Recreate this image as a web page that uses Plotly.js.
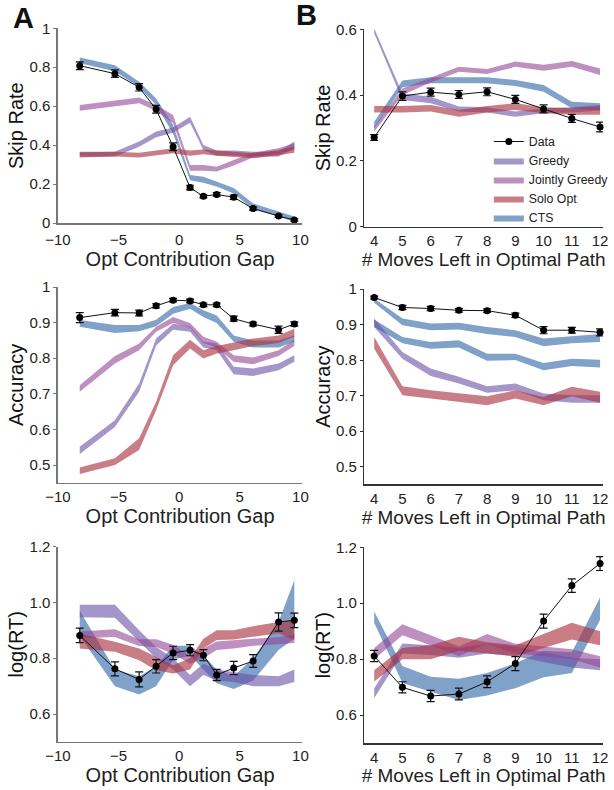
<!DOCTYPE html>
<html>
<head>
<meta charset="utf-8">
<script src="https://cdn.plot.ly/plotly-3.0.1.min.js"></script>
<style>html,body{margin:0;padding:0;background:#fff;overflow:hidden;width:614px;height:790px;}#chart{width:614px;height:790px;overflow:hidden;}</style>
</head>
<body>
<div id="chart"></div>
<script>
// ---------- x categories ----------
const xA = [-8.2, -5.3, -3.3, -1.9, -0.5, 0.9, 2.0, 3.1, 4.5, 6.1, 8.2, 9.5];
const xB = [4, 5, 6, 7, 8, 9, 10, 11, 12];

// ---------- A: Skip Rate ----------
const skipA_data = [0.808, 0.767, 0.697, 0.584, 0.392, 0.182, 0.137, 0.147, 0.132, 0.074, 0.036, 0.015];
const skipA_err  = [0.020, 0.019, 0.019, 0.020, 0.020, 0.012, 0.008, 0.009, 0.011, 0.008, 0.006, 0.006];
const skipA_cts_lo = [0.820, 0.780, 0.697, 0.606, 0.460, 0.220, 0.207, 0.187, 0.152, 0.070, 0.033, 0.007];
const skipA_cts_hi = [0.850, 0.810, 0.726, 0.640, 0.503, 0.247, 0.238, 0.212, 0.180, 0.100, 0.058, 0.033];
const skipA_gr_lo  = [0.341, 0.341, 0.392, 0.440, 0.464, 0.515, 0.375, 0.346, 0.346, 0.341, 0.341, 0.384];
const skipA_gr_hi  = [0.366, 0.366, 0.418, 0.470, 0.490, 0.546, 0.400, 0.372, 0.372, 0.366, 0.366, 0.418];
const skipA_jg_lo  = [0.577, 0.601, 0.615, 0.577, 0.512, 0.269, 0.269, 0.264, 0.295, 0.337, 0.358, 0.375];
const skipA_jg_hi  = [0.606, 0.627, 0.644, 0.606, 0.555, 0.298, 0.298, 0.289, 0.324, 0.361, 0.384, 0.410];
const skipA_so_lo  = [0.337, 0.341, 0.337, 0.346, 0.358, 0.346, 0.353, 0.346, 0.341, 0.332, 0.348, 0.361];
const skipA_so_hi  = [0.363, 0.366, 0.361, 0.372, 0.384, 0.372, 0.378, 0.372, 0.366, 0.358, 0.375, 0.392];

// ---------- B: Skip Rate ----------
const skipB_data = [0.271, 0.397, 0.409, 0.402, 0.410, 0.387, 0.358, 0.329, 0.303];
const skipB_err  = [0.009, 0.013, 0.012, 0.012, 0.012, 0.012, 0.012, 0.012, 0.015];
const skipB_cts_lo = [0.299, 0.424, 0.436, 0.436, 0.436, 0.428, 0.410, 0.360, 0.355];
const skipB_cts_hi = [0.319, 0.444, 0.454, 0.454, 0.454, 0.446, 0.431, 0.380, 0.375];
const skipB_gr_lo  = [0.588, 0.385, 0.375, 0.350, 0.347, 0.334, 0.345, 0.347, 0.353];
const skipB_gr_hi  = [0.603, 0.405, 0.395, 0.365, 0.363, 0.350, 0.360, 0.363, 0.370];
const skipB_jg_lo  = [0.289, 0.400, 0.438, 0.471, 0.464, 0.486, 0.474, 0.486, 0.461];
const skipB_jg_hi  = [0.304, 0.420, 0.454, 0.486, 0.479, 0.502, 0.492, 0.504, 0.481];
const skipB_so_lo  = [0.347, 0.347, 0.350, 0.334, 0.347, 0.355, 0.345, 0.340, 0.340];
const skipB_so_hi  = [0.367, 0.367, 0.370, 0.355, 0.367, 0.375, 0.363, 0.360, 0.365];

// ---------- A: Accuracy ----------
const accA_data = [0.914, 0.928, 0.927, 0.947, 0.963, 0.961, 0.950, 0.950, 0.911, 0.896, 0.880, 0.896];
const accA_err  = [0.014, 0.009, 0.008, 0.006, 0.005, 0.005, 0.005, 0.005, 0.007, 0.005, 0.010, 0.006];
const accA_cts_lo = [0.888, 0.871, 0.876, 0.890, 0.925, 0.939, 0.916, 0.899, 0.846, 0.830, 0.830, 0.846];
const accA_cts_hi = [0.907, 0.893, 0.893, 0.908, 0.944, 0.955, 0.935, 0.920, 0.864, 0.850, 0.850, 0.864];
const accA_gr_lo  = [0.531, 0.607, 0.706, 0.836, 0.880, 0.874, 0.830, 0.822, 0.755, 0.750, 0.766, 0.790];
const accA_gr_hi  = [0.551, 0.626, 0.729, 0.855, 0.897, 0.890, 0.846, 0.841, 0.776, 0.771, 0.785, 0.808];
const accA_jg_lo  = [0.706, 0.785, 0.822, 0.874, 0.899, 0.886, 0.843, 0.830, 0.790, 0.783, 0.806, 0.834];
const accA_jg_hi  = [0.724, 0.806, 0.841, 0.888, 0.916, 0.899, 0.860, 0.846, 0.808, 0.802, 0.822, 0.852];
const accA_so_lo  = [0.475, 0.500, 0.542, 0.654, 0.780, 0.827, 0.799, 0.813, 0.822, 0.834, 0.843, 0.860];
const accA_so_hi  = [0.493, 0.519, 0.575, 0.678, 0.808, 0.852, 0.822, 0.834, 0.843, 0.855, 0.864, 0.883];

// ---------- B: Accuracy ----------
const accB_data = [0.976, 0.948, 0.945, 0.940, 0.939, 0.926, 0.884, 0.884, 0.878];
const accB_err  = [0.004, 0.006, 0.006, 0.005, 0.005, 0.006, 0.010, 0.008, 0.010];
const accB_cts_lo  = [0.961, 0.898, 0.884, 0.886, 0.873, 0.865, 0.839, 0.847, 0.851];
const accB_cts_hi  = [0.973, 0.917, 0.903, 0.905, 0.893, 0.884, 0.861, 0.867, 0.873];
const accB_cts2_lo = [0.893, 0.847, 0.832, 0.835, 0.798, 0.800, 0.771, 0.783, 0.779];
const accB_cts2_hi = [0.914, 0.865, 0.851, 0.856, 0.818, 0.818, 0.792, 0.804, 0.801];
const accB_gr_lo   = [0.893, 0.804, 0.755, 0.734, 0.708, 0.715, 0.687, 0.680, 0.680];
const accB_gr_hi   = [0.917, 0.823, 0.776, 0.753, 0.726, 0.734, 0.706, 0.701, 0.701];
const accB_so_lo   = [0.832, 0.701, 0.692, 0.682, 0.673, 0.692, 0.673, 0.698, 0.680];
const accB_so_hi   = [0.865, 0.726, 0.715, 0.706, 0.698, 0.715, 0.696, 0.725, 0.711];

// ---------- A: log(RT) ----------
const rtA_data = [0.882, 0.762, 0.724, 0.771, 0.819, 0.829, 0.811, 0.740, 0.765, 0.790, 0.930, 0.936];
const rtA_err  = [0.026, 0.025, 0.027, 0.024, 0.024, 0.020, 0.020, 0.020, 0.024, 0.023, 0.033, 0.026];
const rtA_cts_lo = [0.880, 0.700, 0.670, 0.700, 0.795, 0.810, 0.760, 0.710, 0.690, 0.720, 0.830, 0.870];
const rtA_cts_hi = [0.970, 0.760, 0.735, 0.770, 0.845, 0.845, 0.810, 0.760, 0.735, 0.800, 0.930, 1.080];
const rtA_gr_lo  = [0.947, 0.945, 0.860, 0.800, 0.760, 0.700, 0.740, 0.720, 0.715, 0.700, 0.700, 0.715];
const rtA_gr_hi  = [0.992, 0.992, 0.900, 0.840, 0.800, 0.740, 0.780, 0.760, 0.750, 0.740, 0.735, 0.760];
const rtA_jg_lo  = [0.872, 0.876, 0.844, 0.840, 0.816, 0.780, 0.800, 0.830, 0.835, 0.845, 0.850, 0.855];
const rtA_jg_hi  = [0.896, 0.904, 0.868, 0.868, 0.848, 0.810, 0.835, 0.860, 0.865, 0.870, 0.875, 0.885];
const rtA_so_lo  = [0.835, 0.823, 0.793, 0.757, 0.745, 0.760, 0.835, 0.865, 0.867, 0.876, 0.890, 0.865];
const rtA_so_hi  = [0.888, 0.859, 0.835, 0.805, 0.775, 0.800, 0.870, 0.900, 0.900, 0.915, 0.930, 0.936];

// ---------- B: log(RT) ----------
const rtB_data = [0.811, 0.699, 0.668, 0.675, 0.719, 0.784, 0.936, 1.063, 1.142];
const rtB_err  = [0.020, 0.020, 0.020, 0.021, 0.021, 0.025, 0.025, 0.024, 0.025];
const rtB_cts_lo = [0.930, 0.715, 0.683, 0.654, 0.670, 0.696, 0.735, 0.750, 0.940];
const rtB_cts_hi = [0.970, 0.775, 0.737, 0.730, 0.750, 0.785, 0.830, 0.825, 1.020];
const rtB_gr_lo  = [0.660, 0.820, 0.815, 0.805, 0.820, 0.810, 0.790, 0.770, 0.760];
const rtB_gr_hi  = [0.695, 0.856, 0.850, 0.840, 0.855, 0.845, 0.825, 0.805, 0.800];
const rtB_jg_lo  = [0.800, 0.885, 0.850, 0.810, 0.855, 0.820, 0.810, 0.800, 0.770];
const rtB_jg_hi  = [0.840, 0.925, 0.885, 0.845, 0.890, 0.855, 0.845, 0.835, 0.810];
const rtB_so_lo  = [0.720, 0.800, 0.800, 0.830, 0.820, 0.810, 0.840, 0.870, 0.850];
const rtB_so_hi  = [0.760, 0.840, 0.850, 0.880, 0.860, 0.850, 0.890, 0.930, 0.900];

// ---------- styling ----------
const COL = {
  cts: 'rgba(60,110,170,0.65)',
  gr:  'rgba(105,80,165,0.6)',
  jg:  'rgba(145,70,150,0.6)',
  so:  'rgba(170,50,65,0.63)'
};
const NAMES = {cts: 'CTS', gr: 'Greedy', jg: 'Jointly Greedy', so: 'Solo Opt'};
const RANK = {data: 1, gr: 2, jg: 3, so: 4, cts: 5};
const FONT = 'Liberation Sans, Arial, Helvetica, sans-serif';

const traces = [];
function band(x, lo, hi, key, n, legend) {
  traces.push({
    type: 'scatter', mode: 'lines',
    x: x.concat(x.slice().reverse()),
    y: lo.concat(hi.slice().reverse()),
    fill: 'toself', fillcolor: COL[key],
    line: {width: 0, color: COL[key]},
    name: NAMES[key], legendrank: RANK[key],
    showlegend: !!legend, hoverinfo: 'skip',
    xaxis: 'x' + (n === 1 ? '' : n), yaxis: 'y' + (n === 1 ? '' : n)
  });
}
function dataTrace(x, y, e, n, legend) {
  traces.push({
    type: 'scatter', mode: 'lines+markers', x: x, y: y,
    error_y: {type: 'data', array: e, visible: true, color: '#111', thickness: 1.2, width: 4},
    line: {color: '#111', width: 1},
    marker: {color: '#000', size: 7},
    name: 'Data', legendrank: RANK.data, showlegend: !!legend, cliponaxis: false,
    xaxis: 'x' + (n === 1 ? '' : n), yaxis: 'y' + (n === 1 ? '' : n)
  });
}

// Panel A1
band(xA, skipA_cts_lo, skipA_cts_hi, 'cts', 1);
band(xA, skipA_gr_lo, skipA_gr_hi, 'gr', 1);
band(xA, skipA_jg_lo, skipA_jg_hi, 'jg', 1);
band(xA, skipA_so_lo, skipA_so_hi, 'so', 1);
dataTrace(xA, skipA_data, skipA_err, 1);
// Panel B1 (legend)
band(xB, skipB_cts_lo, skipB_cts_hi, 'cts', 2, true);
band(xB, skipB_gr_lo, skipB_gr_hi, 'gr', 2, true);
band(xB, skipB_jg_lo, skipB_jg_hi, 'jg', 2, true);
band(xB, skipB_so_lo, skipB_so_hi, 'so', 2, true);
dataTrace(xB, skipB_data, skipB_err, 2, true);
// Panel A2
band(xA, accA_cts_lo, accA_cts_hi, 'cts', 3);
band(xA, accA_gr_lo, accA_gr_hi, 'gr', 3);
band(xA, accA_jg_lo, accA_jg_hi, 'jg', 3);
band(xA, accA_so_lo, accA_so_hi, 'so', 3);
dataTrace(xA, accA_data, accA_err, 3);
// Panel B2
band(xB, accB_cts_lo, accB_cts_hi, 'cts', 4);
band(xB, accB_cts2_lo, accB_cts2_hi, 'cts', 4);
band(xB, accB_gr_lo, accB_gr_hi, 'gr', 4);
band(xB, accB_so_lo, accB_so_hi, 'so', 4);
dataTrace(xB, accB_data, accB_err, 4);
// Panel A3
band(xA, rtA_cts_lo, rtA_cts_hi, 'cts', 5);
band(xA, rtA_gr_lo, rtA_gr_hi, 'gr', 5);
band(xA, rtA_jg_lo, rtA_jg_hi, 'jg', 5);
band(xA, rtA_so_lo, rtA_so_hi, 'so', 5);
dataTrace(xA, rtA_data, rtA_err, 5);
// Panel B3
band(xB, rtB_cts_lo, rtB_cts_hi, 'cts', 6);
band(xB, rtB_gr_lo, rtB_gr_hi, 'gr', 6);
band(xB, rtB_jg_lo, rtB_jg_hi, 'jg', 6);
band(xB, rtB_so_lo, rtB_so_hi, 'so', 6);
dataTrace(xB, rtB_data, rtB_err, 6);

const W = 614, H = 790;
const px = v => v / W, py = v => 1 - v / H;
const AX_A = '#777', AX_B = '#333';
function xax(domain, range, dtick, title, color, anchor, tsize, lstand) {
  return {
    domain: domain, range: range, dtick: dtick, tick0: 0, anchor: anchor,
    showline: true, linecolor: color, linewidth: 1.5, showgrid: false, zeroline: false,
    ticks: '', ticklabelstandoff: lstand || 0, tickfont: {family: FONT, size: 15, color: '#222'},
    title: {text: title, font: {family: FONT, size: tsize, color: '#222'}, standoff: 0},
    automargin: false
  };
}
function yax(domain, range, dtick, title, color, anchor, fmt) {
  const a = {
    domain: domain, range: range, dtick: dtick, tick0: 0, anchor: anchor,
    showline: true, linecolor: color, linewidth: 1.5, showgrid: false, zeroline: false,
    ticks: 'outside', ticklen: 3, tickcolor: color, tickwidth: 1,
    tickfont: {family: FONT, size: 15, color: '#222'},
    title: {text: title, font: {family: FONT, size: 20, color: '#111'}, standoff: 0},
    automargin: false
  };
  if (fmt) a.tickformat = fmt;
  return a;
}
const dAx = [px(58.3), px(304.3)], dBx = [px(366.7), px(607)];
const rAx = [-10, 10.16], rBx = [3.65, 12.106];

const layout = {
  width: W, height: H, margin: {l: 0, r: 0, t: 0, b: 0, pad: 0}, autosize: false,
  paper_bgcolor: '#fff', plot_bgcolor: 'rgba(0,0,0,0)',
  font: {family: FONT, color: '#222'},
  showlegend: true,
  legend: {x: px(492), y: py(127), xanchor: 'left', yanchor: 'top',
           bgcolor: 'rgba(0,0,0,0)', font: {family: FONT, size: 12.3, color: '#222'},
           tracegroupgap: 0, itemwidth: 30},
  xaxis:  xax(dAx, rAx, 5, 'Opt Contribution Gap', AX_A, 'y', 20, 2),
  yaxis:  yax([py(223), py(28.3)], [0, 1], 0.2, 'Skip Rate', AX_A, 'x'),
  xaxis2: xax(dBx, rBx, 1, '# Moves Left in Optimal Path', AX_B, 'y2', 19),
  yaxis2: yax([py(226.7), py(29.3)], [0, 0.6], 0.2, 'Skip Rate', AX_B, 'x2'),
  xaxis3: xax(dAx, rAx, 5, 'Opt Contribution Gap', AX_A, 'y3', 20),
  yaxis3: yax([py(482.8), py(287)], [0.45, 1], 0.1, 'Accuracy', AX_A, 'x3'),
  xaxis4: xax(dBx, rBx, 1, '# Moves Left in Optimal Path', AX_B, 'y4', 19),
  yaxis4: yax([py(484.4), py(289)], [0.45, 1], 0.1, 'Accuracy', AX_B, 'x4'),
  xaxis5: xax(dAx, rAx, 5, 'Opt Contribution Gap', AX_A, 'y5', 20),
  yaxis5: yax([py(741.9), py(546.7)], [0.5, 1.2], 0.2, 'log(RT)', AX_A, 'x5', '.1f'),
  xaxis6: xax(dBx, rBx, 1, '# Moves Left in Optimal Path', AX_B, 'y6', 19),
  yaxis6: yax([py(743), py(547.3)], [0.5, 1.2], 0.2, 'log(RT)', AX_B, 'x6', '.1f'),
  annotations: [
    {text: '<b>A</b>', x: px(24), y: py(18), xref: 'paper', yref: 'paper', showarrow: false,
     xanchor: 'center', yanchor: 'middle', font: {family: FONT, size: 29, color: '#111'}},
    {text: '<b>B</b>', x: px(309), y: py(15), xref: 'paper', yref: 'paper', showarrow: false,
     xanchor: 'center', yanchor: 'middle', font: {family: FONT, size: 29, color: '#111'}}
  ]
};
layout.yaxis3.tick0 = 0.5; layout.yaxis4.tick0 = 0.5;
layout.yaxis5.tick0 = 0.6; layout.yaxis6.tick0 = 0.6;

Plotly.newPlot('chart', traces, layout, {displayModeBar: false, staticPlot: true, responsive: false});
</script>
</body>
</html>
